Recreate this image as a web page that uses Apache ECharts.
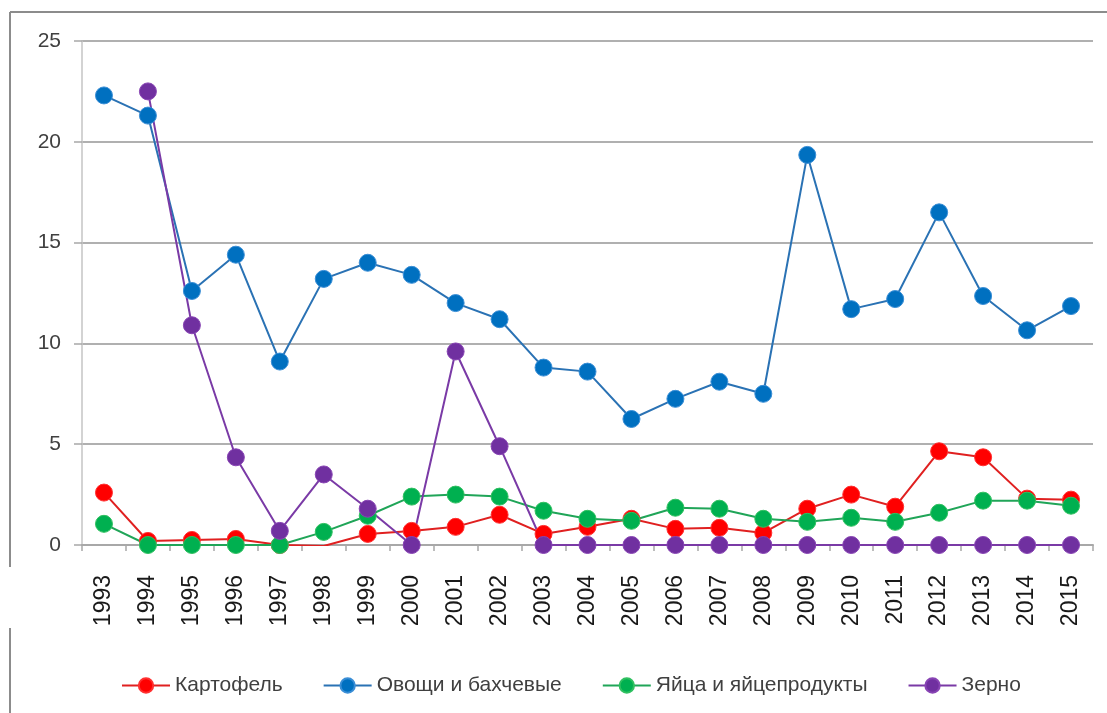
<!DOCTYPE html>
<html>
<head>
<meta charset="utf-8">
<script src="https://cdn.jsdelivr.net/npm/echarts@6/dist/echarts.min.js"></script>
<style>html,body{margin:0;padding:0;background:#fff;}#c{width:1107px;height:713px;}</style>
</head>
<body>
<div id="c"></div>
<script>
var years = ['1993','1994','1995','1996','1997','1998','1999','2000','2001','2002','2003','2004','2005','2006','2007','2008','2009','2010','2011','2012','2013','2014','2015'];
var kartofel = [2.6,0.2,0.25,0.3,0.0,-0.05,0.55,0.7,0.9,1.5,0.55,0.9,1.3,0.8,0.85,0.6,1.8,2.5,1.9,4.65,4.35,2.3,2.25];
var ovoshi = [22.3,21.3,12.6,14.4,9.1,13.2,14.0,13.4,12.0,11.2,8.8,8.6,6.25,7.25,8.1,7.5,19.35,11.7,12.2,16.5,12.35,10.65,11.85];
var yaica = [1.05,0,0,0,0,0.65,1.45,2.4,2.5,2.4,1.7,1.3,1.2,1.85,1.8,1.3,1.15,1.35,1.15,1.6,2.2,2.2,1.95];
var zerno = [null,22.5,10.9,4.35,0.7,3.5,1.8,0,9.6,4.9,0,0,0,0,0,0,0,0,0,0,0,0,0];
var names = ['Картофель','Овощи и бахчевые','Яйца и яйцепродукты','Зерно'];
var yTicks = {min:0, max:25, interval:5};

function mk(name, data, fill, line, border){
  return {
    name: name, type: 'line', data: data,
    symbol: 'circle', symbolSize: 17, connectNulls: false,
    lineStyle: {color: line, width: 2},
    itemStyle: {color: fill, borderColor: border, borderWidth: 1},
    emphasis: {disabled: true}
  };
}
var chart = echarts.init(document.getElementById('c'));
chart.setOption({
  animation: false,
  backgroundColor: '#ffffff',
  grid: {left: 82, right: 14, top: 41, bottom: 168, containLabel: false},
  legend: {
    data: names, left: 116, top: 670, itemWidth: 48, itemHeight: 18, itemGap: 40,
    textStyle: {fontFamily: 'Liberation Sans, sans-serif', fontSize: 21, color: '#404040'}
  },
  xAxis: {
    type: 'category', data: years, boundaryGap: true,
    axisLine: {lineStyle: {color: '#a8a8a8', width: 2}},
    axisTick: {show: true, length: 6, inside: false, lineStyle: {color: '#a8a8a8', width: 1.5}},
    axisLabel: {rotate: 90, interval: 0, margin: 30, fontFamily: 'Liberation Sans, sans-serif', fontSize: 23, color: '#1a1a1a'}
  },
  yAxis: {
    type: 'value', min: yTicks.min, max: yTicks.max, interval: yTicks.interval,
    axisLine: {show: true, lineStyle: {color: '#c4c4c4', width: 1.5}},
    axisTick: {show: true, length: 8, lineStyle: {color: '#a8a8a8', width: 1.5}},
    splitLine: {lineStyle: {color: '#b0b0b0', width: 2}},
    axisLabel: {margin: 21, fontFamily: 'Liberation Sans, sans-serif', fontSize: 21, color: '#404040'}
  },
  graphic: [
    {type: 'line', shape: {x1: 10, y1: 12, x2: 1107, y2: 12}, style: {stroke: '#8c8c8c', lineWidth: 2}, silent: true},
    {type: 'line', shape: {x1: 10, y1: 12, x2: 10, y2: 567}, style: {stroke: '#8c8c8c', lineWidth: 2}, silent: true},
    {type: 'line', shape: {x1: 10, y1: 628, x2: 10, y2: 713}, style: {stroke: '#8c8c8c', lineWidth: 2}, silent: true}
  ],
  series: [
    mk(names[0], kartofel, '#ff0000', '#e02020', '#ff3030'),
    mk(names[1], ovoshi, '#0070c0', '#2a72b4', '#3a8ed6'),
    mk(names[2], yaica, '#00b050', '#20a558', '#30c060'),
    mk(names[3], zerno, '#7030a0', '#7a3aa6', '#8844b4')
  ]
});
</script>
</body>
</html>
